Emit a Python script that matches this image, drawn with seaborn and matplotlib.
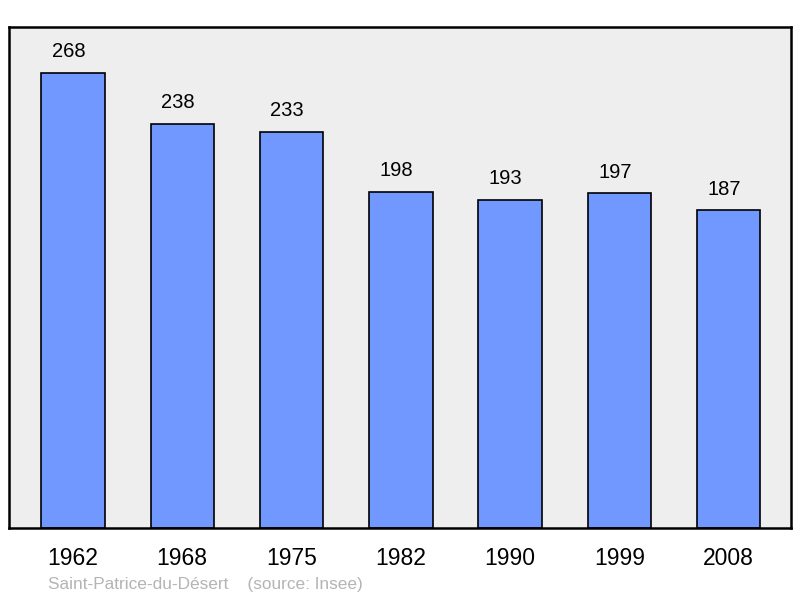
import matplotlib
matplotlib.use("Agg")
import matplotlib.pyplot as plt
import seaborn as sns
import pandas as pd

years = ["1962", "1968", "1975", "1982", "1990", "1999", "2008"]
population = [268, 238, 233, 198, 193, 197, 187]

sns.set_style("white")
plt.rcParams["font.family"] = ["Liberation Sans", "DejaVu Sans"]
plt.rcParams["text.color"] = "black"
plt.rcParams["xtick.color"] = "black"

df = pd.DataFrame({"year": years, "pop": population})

fig = plt.figure(figsize=(8, 5.98), dpi=100)
ax = fig.add_axes([9 / 800, 70 / 598, 782 / 800, 501 / 598])
ax.set_facecolor("#eeeeee")

sns.barplot(data=df, x="year", y="pop", color="#7098ff", saturation=1,
            width=0.58, edgecolor="black", linewidth=1.2, ax=ax)

# value labels above each bar
for i, v in enumerate(population):
    ax.text(i - 0.04, v + 7, str(v), ha="center", va="bottom", fontsize=14.5)

ax.set_xlim(-0.585, 6.57)
ax.set_ylim(0, 295)
ax.set_yticks([])
ax.set_xlabel("")
ax.set_ylabel("")
ax.tick_params(axis="x", length=0, labelsize=16.5, pad=14)
for s in ax.spines.values():
    s.set_linewidth(1.8)
    s.set_color("black")

fig.text(48 / 800, 1 - 584 / 598, "Saint-Patrice-du-Désert    (source: Insee)",
         fontsize=12.4, color="#b4b4b4", va="center", ha="left")

fig.savefig("out.png", dpi=100)
